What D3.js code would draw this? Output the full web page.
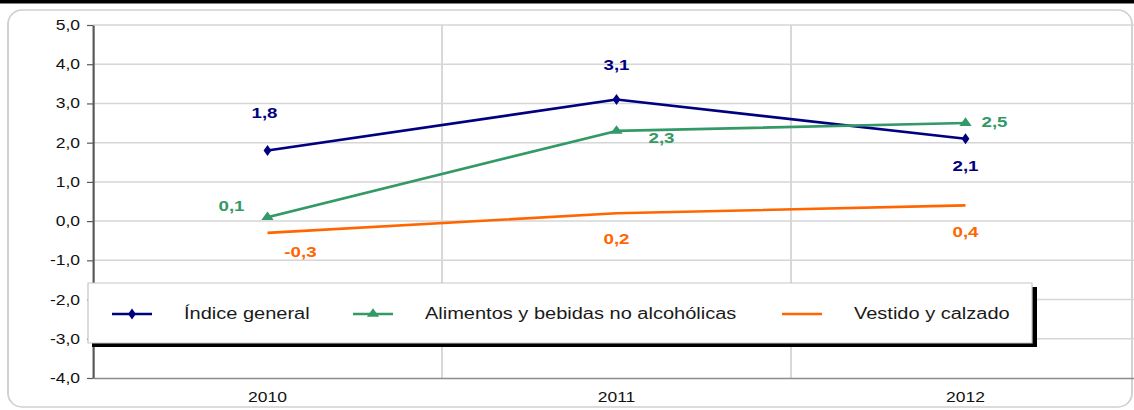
<!DOCTYPE html>
<html>
<head>
<meta charset="utf-8">
<script src="https://cdn.jsdelivr.net/npm/d3@7"></script>
<style>
  body { margin: 0; background: #fff; }
  svg { display: block; }
  text { font-family: "Liberation Sans", Arial, sans-serif; }
</style>
</head>
<body>
<div id="chart"></div>
<script>
// data
const years = ["2010", "2011", "2012"];
const seriesNames = ["Índice general", "Alimentos y bebidas no alcohólicas", "Vestido y calzado"];
const indiceGeneral = [1.8, 3.1, 2.1];
const alimentos = [0.1, 2.3, 2.5];
const vestido = [-0.3, 0.2, 0.4];
const yTicks = [-4, -3, -2, -1, 0, 1, 2, 3, 4, 5];

// layout (screen pixels); the original chart is stretched horizontally
const W = 1134, H = 410, SX = 1.25;
const px = v => v / SX;
const plot = { left: 93, right: 1140, top: 25, bottom: 378 };

const locale = d3.formatLocale({ decimal: ",", thousands: ".", grouping: [3], currency: ["", "€"], minus: "-" });
const fmt = locale.format(".1f");

const series = [
	{ name: seriesNames[0], values: indiceGeneral, color: "#000080", symbol: d3.symbolDiamond, size: 34,
	  labelOffsets: [[-3, -37], [0, -34], [0, 27]] },
	{ name: seriesNames[1], values: alimentos, color: "#339966", symbol: d3.symbolTriangle, size: 42,
	  labelOffsets: [[-36, -11], [45, 7], [29, -1]] },
	{ name: seriesNames[2], values: vestido, color: "#FF6600", symbol: null, size: 0,
	  labelOffsets: [[33, 19], [0, 26], [0, 27]] }
];

const legendX = [112, 353, 782];

const svg = d3.select("#chart").append("svg")
	.attr("width", W)
	.attr("height", H)
	.attr("viewBox", "0 0 " + px(W) + " " + H)
	.attr("preserveAspectRatio", "none");

// outer rounded frame and top black bar
svg.append("rect")
	.attr("x", px(8)).attr("y", 10)
	.attr("width", px(1124)).attr("height", 397)
	.attr("rx", px(14)).attr("ry", 14)
	.attr("fill", "#fff").attr("stroke", "#d0d0d0").attr("stroke-width", 1.5);

svg.append("rect")
	.attr("x", 0).attr("y", 0).attr("width", px(W)).attr("height", 3.5)
	.attr("fill", "#000");

const x = d3.scaleBand().domain(years).range([px(plot.left), px(plot.right)]).padding(0);
const y = d3.scaleLinear().domain([-4, 5]).range([plot.bottom, plot.top]);
const cx = d => x(d) + x.bandwidth() / 2;

// gridlines
const grid = svg.append("g");
grid.selectAll(".hg").data(yTicks.filter(t => t > -4)).enter().append("line")
	.attr("x1", px(plot.left)).attr("x2", px(plot.right))
	.attr("y1", d => y(d)).attr("y2", d => y(d))
	.attr("stroke", "#d6d6d6").attr("stroke-width", 1.5);
grid.selectAll(".vg").data(years.slice(1)).enter().append("line")
	.attr("x1", d => x(d)).attr("x2", d => x(d))
	.attr("y1", plot.top).attr("y2", plot.bottom)
	.attr("stroke", "#d6d6d6").attr("stroke-width", 1.5);

// x axis
const xAxis = svg.append("g")
	.attr("transform", "translate(0," + plot.bottom + ")")
	.call(d3.axisBottom(x).tickSize(0).tickSizeOuter(0).tickPadding(14));
xAxis.select(".domain").attr("stroke", "#8c8c8c").attr("stroke-width", 1.5);
xAxis.selectAll("text").attr("font-size", 14).attr("fill", "#111")
	.attr("font-family", "Liberation Sans, Arial, sans-serif");

// y axis
const yAxis = svg.append("g")
	.attr("transform", "translate(" + px(plot.left) + ",0)")
	.call(d3.axisLeft(y).tickValues(yTicks).tickFormat(fmt)
		.tickSize(px(6)).tickSizeOuter(0).tickPadding(px(7)));
yAxis.select(".domain").attr("stroke", "#595959").attr("stroke-width", px(2.2));
yAxis.selectAll(".tick line").attr("stroke", "#595959").attr("stroke-width", 1.2);
yAxis.selectAll("text").attr("font-size", 14).attr("fill", "#111")
	.attr("font-family", "Liberation Sans, Arial, sans-serif");

// series lines
const line = d3.line().x((d, i) => cx(years[i])).y(d => y(d));
series.forEach(s => {
	svg.append("path")
		.datum(s.values)
		.attr("d", line)
		.attr("fill", "none")
		.attr("stroke", s.color)
		.attr("stroke-width", 2.6)
		.attr("stroke-linejoin", "round");

	if (s.symbol) {
		svg.selectAll(null).data(s.values).enter().append("path")
			.attr("transform", (d, i) => "translate(" + cx(years[i]) + "," + y(d) + ")")
			.attr("d", d3.symbol().type(s.symbol).size(s.size))
			.attr("fill", s.color);
	}

	svg.selectAll(null).data(s.values).enter().append("text")
		.attr("x", (d, i) => cx(years[i]) + px(s.labelOffsets[i][0]))
		.attr("y", (d, i) => y(d) + s.labelOffsets[i][1])
		.attr("text-anchor", "middle")
		.attr("dominant-baseline", "central")
		.attr("font-size", 15)
		.attr("font-weight", "bold")
		.attr("fill", s.color)
		.text(d => fmt(d));
});

// legend
const lg = svg.append("g");
lg.append("rect")
	.attr("x", px(92)).attr("y", 287).attr("width", px(945)).attr("height", 60)
	.attr("fill", "#000");
lg.append("rect")
	.attr("x", px(88)).attr("y", 283).attr("width", px(944)).attr("height", 60)
	.attr("fill", "#fff").attr("stroke", "#c8c8c8").attr("stroke-width", 1);

const ly = 314;
series.forEach((s, i) => {
	const lx = legendX[i];
	lg.append("line")
		.attr("x1", px(lx)).attr("x2", px(lx + 40))
		.attr("y1", ly).attr("y2", ly)
		.attr("stroke", s.color).attr("stroke-width", 2.6);
	if (s.symbol) {
		lg.append("path")
			.attr("transform", "translate(" + px(lx + 20) + "," + ly + ")")
			.attr("d", d3.symbol().type(s.symbol).size(s.size))
			.attr("fill", s.color);
	}
	lg.append("text")
		.attr("x", px(lx + 72)).attr("y", ly)
		.attr("dominant-baseline", "central")
		.attr("font-size", 16)
		.attr("fill", "#1a1a1a")
		.text(s.name);
});
</script>
</body>
</html>
